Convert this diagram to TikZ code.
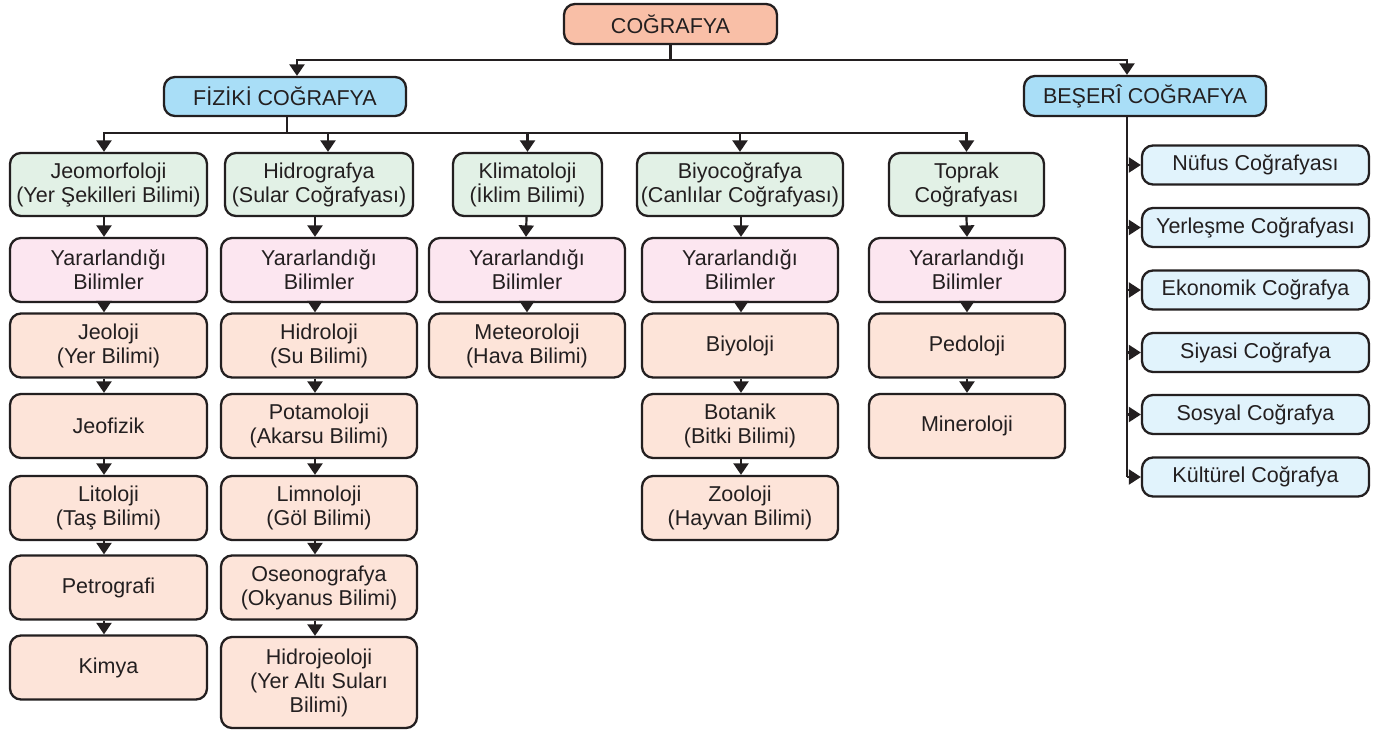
\documentclass[tikz,border=0pt]{standalone}
\usepackage{fontspec}
\setmainfont{Liberation Sans}
\usetikzlibrary{arrows.meta,calc}
\definecolor{ink}{HTML}{231F20}
\definecolor{cSalmon}{HTML}{F9BFA7}
\definecolor{cBlue}{HTML}{A9DEF7}
\definecolor{cGreen}{HTML}{E2F1E6}
\definecolor{cPink}{HTML}{FCE6F0}
\definecolor{cPeach}{HTML}{FDE4D9}
\definecolor{cLight}{HTML}{E1F3FC}
\begin{document}
\begin{tikzpicture}[x=1pt,y=-1pt,
  box/.style={draw=ink, line width=2.3pt, rounded corners=11pt, align=center, inner sep=0pt, text=ink, font=\fontsize{21.5}{24}\selectfont},
  grn/.style={box, fill=cGreen, minimum height=63pt},
  pnk/.style={box, fill=cPink, minimum width=196pt, minimum height=64pt},
  pch/.style={box, fill=cPeach, minimum width=196pt, minimum height=64pt},
  lbl/.style={box, fill=cLight, minimum width=227pt, minimum height=39pt},
  conn/.style={draw=ink, line width=2.2pt},
  arr/.style={conn, -{Triangle[length=11.5pt,width=15pt]}},
  harr/.style={conn, -{Triangle[length=12pt,width=15pt]}},
]
\useasboundingbox (0,0) rectangle (1373,732);
\fill[white] (0,0) rectangle (1373,732);

% top level
\node[box, fill=cSalmon, minimum width=213pt, minimum height=40pt] (cog) at (670.5,24) {COĞRAFYA};
\node[box, fill=cBlue, minimum width=242pt, minimum height=39pt] (fiz) at (285,96.5) {FİZİKİ COĞRAFYA};
\node[box, fill=cBlue, minimum width=242pt, minimum height=40pt] (bes) at (1145,96) {BEŞERÎ COĞRAFYA};

% green row
\node[grn, minimum width=197pt] (jeo) at (108.5,184.5) {Jeomorfoloji\\(Yer Şekilleri Bilimi)};
\node[grn, minimum width=188pt] (hid) at (319,184.5) {Hidrografya\\(Sular Coğrafyası)};
\node[grn, minimum width=149pt] (kli) at (527.5,184.5) {Klimatoloji\\(İklim Bilimi)};
\node[grn, minimum width=206pt] (biy) at (740,184.5) {Biyocoğrafya\\(Canlılar Coğrafyası)};
\node[grn, minimum width=155pt] (top) at (966.5,184.5) {Toprak\\Coğrafyası};

% column 1
\node[pnk, minimum width=197pt] (a1) at (108.5,270) {Yararlandığı\\Bilimler};
\node[pch, minimum width=197pt] (a2) at (108.5,345.5) {Jeoloji\\(Yer Bilimi)};
\node[pch, minimum width=197pt] (a3) at (108.5,426) {Jeofizik};
\node[pch, minimum width=197pt] (a4) at (108.5,508) {Litoloji\\(Taş Bilimi)};
\node[pch, minimum width=197pt] (a5) at (108.5,587.5) {Petrografi};
\node[pch, minimum width=197pt] (a6) at (108.5,667.5) {Kimya};

% column 2
\node[pnk] (b1) at (319,270) {Yararlandığı\\Bilimler};
\node[pch] (b2) at (319,345.5) {Hidroloji\\(Su Bilimi)};
\node[pch] (b3) at (319,426) {Potamoloji\\(Akarsu Bilimi)};
\node[pch] (b4) at (319,508) {Limnoloji\\(Göl Bilimi)};
\node[pch] (b5) at (319,587.5) {Oseonografya\\(Okyanus Bilimi)};
\node[pch, minimum height=91pt] (b6) at (319,682.5) {Hidrojeoloji\\(Yer Altı Suları\\Bilimi)};

% column 3
\node[pnk] (c1) at (527,270) {Yararlandığı\\Bilimler};
\node[pch] (c2) at (527,345.5) {Meteoroloji\\(Hava Bilimi)};

% column 4
\node[pnk] (d1) at (740,270) {Yararlandığı\\Bilimler};
\node[pch] (d2) at (740,345.5) {Biyoloji};
\node[pch] (d3) at (740,426) {Botanik\\(Bitki Bilimi)};
\node[pch] (d4) at (740,508) {Zooloji\\(Hayvan Bilimi)};

% column 5
\node[pnk] (e1) at (967,270) {Yararlandığı\\Bilimler};
\node[pch] (e2) at (967,345.5) {Pedoloji};
\node[pch] (e3) at (967,426) {Mineroloji};

% right list
\node[lbl] (r1) at (1255.5,165) {Nüfus Coğrafyası};
\node[lbl] (r2) at (1255.5,227.5) {Yerleşme Coğrafyası};
\node[lbl] (r3) at (1255.5,290) {Ekonomik Coğrafya};
\node[lbl] (r4) at (1255.5,352.5) {Siyasi Coğrafya};
\node[lbl] (r5) at (1255.5,414.5) {Sosyal Coğrafya};
\node[lbl] (r6) at (1255.5,477) {Kültürel Coğrafya};

% bus coordinates
\coordinate (bus0) at (0,60);
\coordinate (bus1) at (0,133);

% top connectors
\draw[conn] (cog.south) -- (cog.south |- bus0);
\draw[arr] (cog.south |- bus0) -| ([xshift=12pt]fiz.north);
\draw[arr] (cog.south |- bus0) -| ([xshift=-18pt]bes.north);

% fiziki connectors
\draw[conn] ([xshift=2pt]fiz.south) -- ([xshift=2pt]fiz.south |- bus1);
\draw[arr] ([xshift=2pt]fiz.south |- bus1) -| ([xshift=-4.5pt]jeo.north);
\draw[arr] ([xshift=2pt]fiz.south |- bus1) -| ([xshift=9pt]hid.north);
\draw[arr] ([xshift=2pt]fiz.south |- bus1) -| (kli.north);
\draw[arr] ([xshift=2pt]fiz.south |- bus1) -| (biy.north);
\draw[arr] ([xshift=2pt]fiz.south |- bus1) -| (top.north);

% column 1 chain
\draw[arr] ([xshift=-4.5pt]jeo.south) -- ([xshift=-4.5pt]a1.north);
\draw[arr] ([xshift=-4.5pt]a1.south) -- ([xshift=-4.5pt]a2.north);
\draw[arr] ([xshift=-4.5pt]a2.south) -- ([xshift=-4.5pt]a3.north);
\draw[arr] ([xshift=-4.5pt]a3.south) -- ([xshift=-4.5pt]a4.north);
\draw[arr] ([xshift=-4.5pt]a4.south) -- ([xshift=-4.5pt]a5.north);
\draw[arr] ([xshift=-4.5pt]a5.south) -- ([xshift=-4.5pt]a6.north);

% column 2 chain
\draw[arr] ([xshift=-4pt]hid.south) -- ([xshift=-4pt]b1.north);
\draw[arr] ([xshift=-4pt]b1.south) -- ([xshift=-4pt]b2.north);
\draw[arr] ([xshift=-4pt]b2.south) -- ([xshift=-4pt]b3.north);
\draw[arr] ([xshift=-4pt]b3.south) -- ([xshift=-4pt]b4.north);
\draw[arr] ([xshift=-4pt]b4.south) -- ([xshift=-4pt]b5.north);
\draw[arr] ([xshift=-4pt]b5.south) -- ([xshift=-4pt]b6.north);

% column 3 chain
\draw[arr] ([xshift=-1pt]kli.south) -- ([xshift=-1pt]c1.north);
\draw[arr] (c1.south) -- (c2.north);

% column 4 chain
\draw[arr] ([xshift=1pt]biy.south) -- ([xshift=1pt]d1.north);
\draw[arr] ([xshift=1pt]d1.south) -- ([xshift=1pt]d2.north);
\draw[arr] ([xshift=1pt]d2.south) -- ([xshift=1pt]d3.north);
\draw[arr] ([xshift=1pt]d3.south) -- ([xshift=1pt]d4.north);

% column 5 chain
\draw[arr] (top.south) -- (e1.north);
\draw[arr] (e1.south) -- (e2.north);
\draw[arr] (e2.south) -- (e3.north);

% beseri connectors
\draw[conn] ([xshift=-18pt]bes.south) -- ([xshift=-18pt]bes.south |- r6.west);
\foreach \r in {r1,r2,r3,r4,r5,r6}
  \draw[harr] ([xshift=-18pt]bes.south |- \r.west) -- (\r.west);
\end{tikzpicture}
\end{document}
